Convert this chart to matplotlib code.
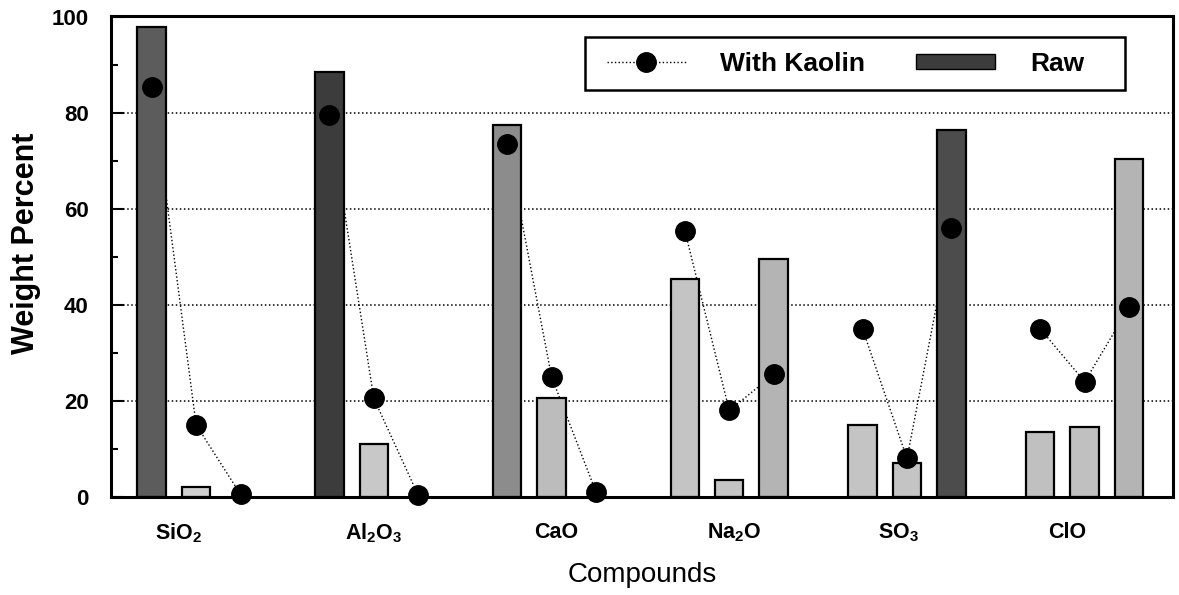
import numpy as np
import matplotlib
matplotlib.use("Agg")
import matplotlib.pyplot as plt
from matplotlib.lines import Line2D
from matplotlib.patches import Patch, Rectangle

# ---- data ----
compounds = ["SiO$_2$", "Al$_2$O$_3$", "CaO", "Na$_2$O", "SO$_3$", "ClO"]
raw = [
    [98.0, 2.0, 0.0],
    [88.5, 11.0, 0.0],
    [77.5, 20.5, 0.0],
    [45.5, 3.5, 49.5],
    [15.0, 7.0, 76.5],
    [13.5, 14.5, 70.5],
]
with_kaolin = [
    [85.5, 15.0, 0.5],
    [79.5, 20.5, 0.3],
    [73.5, 25.0, 1.0],
    [55.5, 18.0, 25.5],
    [35.0, 8.0, 56.0],
    [35.0, 24.0, 39.5],
]
yticks = [0, 20, 40, 60, 80, 100]

# ---- styles ----
bar_shades = [
    ["#5c5c5c", "#d0d0d0", "#d0d0d0"],
    ["#3c3c3c", "#c8c8c8", "#c8c8c8"],
    ["#8c8c8c", "#bcbcbc", "#bcbcbc"],
    ["#c4c4c4", "#c4c4c4", "#b4b4b4"],
    ["#c4c4c4", "#c4c4c4", "#4c4c4c"],
    ["#c0c0c0", "#c0c0c0", "#b4b4b4"],
]
label_offsets = [0.6, 1.0, 1.1, 1.1, 0.8, 0.6]

plt.rcParams['font.family'] = ['Liberation Sans', 'DejaVu Sans']
plt.rcParams['mathtext.fontset'] = 'custom'
plt.rcParams['mathtext.rm'] = 'Liberation Sans:bold'
plt.rcParams['mathtext.it'] = 'Liberation Sans:bold'
plt.rcParams['mathtext.bf'] = 'Liberation Sans:bold'
plt.rcParams['mathtext.default'] = 'regular'

fig = plt.figure(figsize=(11.79, 5.95), dpi=100)
ax = fig.add_axes([0.094, 0.165, 0.901, 0.808])

width = 0.64
for g, (vals, kv) in enumerate(zip(raw, with_kaolin)):
    xs = np.arange(3) + 4 * g
    for j in range(3):
        if vals[j] > 0:
            ax.bar(xs[j], vals[j], width=width, color=bar_shades[g][j],
                   edgecolor='black', linewidth=1.6, zorder=2)
    ax.plot(xs, kv, linestyle=':', color='black', linewidth=1.0, zorder=1.5)
    ax.plot(xs, kv, linestyle='none', marker='o', markersize=14,
            color='black', zorder=4, clip_on=False)

ax.set_xlim(-0.92, 22.99)
ax.set_ylim(0, 100.2)
ax.set_yticks(yticks)
ax.set_yticks([10, 30, 50, 70, 90], minor=True)
ax.yaxis.grid(True, linestyle=':', color='black', linewidth=1.1)
ax.set_axisbelow(True)
ax.tick_params(axis='y', which='major', direction='in', length=9, width=1.5,
               labelsize=16, pad=16)
ax.tick_params(axis='y', which='minor', direction='in', length=5, width=1.5)
for lab in ax.get_yticklabels():
    lab.set_fontweight('bold')

ax.set_xticks([4 * g + o for g, o in enumerate(label_offsets)])
ax.set_xticklabels(compounds, fontsize=15.5, fontweight='bold')
ax.tick_params(axis='x', length=0, pad=18)

for s in ax.spines.values():
    s.set_linewidth(2.2)

ax.set_xlabel("Compounds", fontsize=20, labelpad=12)
ax.set_ylabel("Weight Percent", fontsize=22, fontweight='bold')
ax.yaxis.set_label_coords(-0.066, 0.528)

# legend frame
frame = Rectangle((0.4463, 0.846), 0.5085, 0.110, transform=ax.transAxes,
                  facecolor='white', edgecolor='black', linewidth=1.8,
                  zorder=5)
ax.add_patch(frame)

handles = [
    Line2D([0], [0], linestyle=':', color='black', marker='o', markersize=14,
           linewidth=1.0),
    Patch(facecolor='#3c3c3c', edgecolor='black'),
]
leg = ax.legend(handles, ["With Kaolin", "Raw"], ncol=2, loc='center left',
                bbox_to_anchor=(0.467, 0.901), borderaxespad=0, borderpad=0,
                frameon=False, prop={'size': 19, 'weight': 'bold'},
                handlelength=3.0, handleheight=0.5, handletextpad=1.3,
                columnspacing=1.93)
leg.set_zorder(6)

fig.savefig("out.png", dpi=100)
